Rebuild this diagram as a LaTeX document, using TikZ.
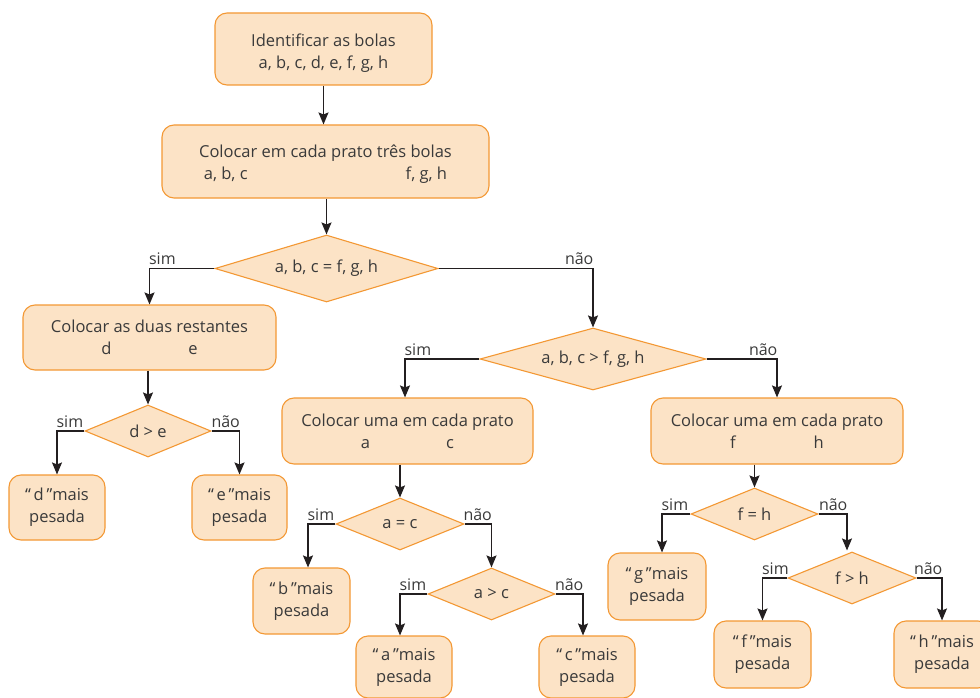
\documentclass[tikz,border=0pt]{standalone}
\usepackage{fontspec}
\setmainfont{Open Sans}
\usetikzlibrary{arrows.meta,shapes.geometric}
\definecolor{pessego}{RGB}{252,227,198}
\definecolor{laranja}{RGB}{243,152,52}
\definecolor{texto}{RGB}{58,58,58}
\definecolor{traco}{RGB}{35,31,32}
\tikzset{
  caixa/.style={draw=laranja, fill=pessego, line width=1.1pt, rounded corners=12pt,
    align=center, text=texto, inner sep=0pt, font=\fontsize{16.5}{22}\selectfont},
  losango/.style={diamond, aspect=2.4, draw=laranja, fill=pessego, line width=1.1pt, inner sep=0pt,
    text=texto, font=\fontsize{16.5}{22}\selectfont},
  seta/.style={draw=traco, line width=1.2pt, -{Stealth[length=12pt,width=10pt,inset=2pt]}},
  sim/.style={anchor=south west, inner sep=0pt, yshift=3pt, xshift=-1pt, text=texto,
    font=\fontsize{16}{21}\selectfont},
  nao/.style={anchor=south east, inner sep=0pt, yshift=3pt, xshift=1pt, text=texto,
    font=\fontsize{16}{21}\selectfont}
}
\begin{document}
\begin{tikzpicture}[x=1pt, y=-1pt]
		%%%%% START %%%%%
		\useasboundingbox (0, 0) rectangle (980, 698);
		\clip (0, 0) rectangle (980, 698);
		
		\node[caixa, minimum width=217, minimum height=72] (ident) at (323.5, 49) {\rule{0pt}{20.5pt}Identificar as bolas\\a, b, c, d, e, f, g, h};
		\node[caixa, minimum width=327, minimum height=73] (tres) at (325.5, 161.5) {\rule{0pt}{18.5pt}Colocar em cada prato três bolas\\a, b, c\hspace{158pt}f, g, h};
		\node[losango, aspect=3.4, minimum width=223, minimum height=67] (igual1) at (326.5, 268.5) {a, b, c = f, g, h};
		
		% ramo sim: d e e
		\node[caixa, minimum width=253, minimum height=65] (duas) at (149.5, 337.5) {Colocar as duas restantes\\d\hspace{77pt}e};
		\node[losango, minimum width=126, minimum height=52] (dmaior) at (148, 431) {d > e};
		\node[caixa, minimum width=96, minimum height=65] (pesd) at (57, 507.5) {“\,d\,”mais\\pesada};
		\node[caixa, minimum width=95, minimum height=65] (pese) at (239.5, 507.5) {“\,e\,”mais\\pesada};
		
		% ramo nao
		\node[losango, aspect=3.6, minimum width=226, minimum height=62] (maior1) at (593, 359) {a, b, c > f, g, h};
		\node[caixa, minimum width=251, minimum height=66] (umaac) at (407.5, 431) {Colocar uma em cada prato\\a\hspace{76pt}c};
		\node[caixa, minimum width=252, minimum height=66] (umafh) at (777, 431) {Colocar uma em cada prato\\f\hspace{78pt}h};
		
		\node[losango, minimum width=128, minimum height=52] (aigualc) at (400, 524) {a = c};
		\node[caixa, minimum width=97, minimum height=66] (pesb) at (301.5, 601) {“\,b\,”mais\\pesada};
		\node[losango, minimum width=127, minimum height=52] (amaiorc) at (491.5, 594) {a > c};
		\node[caixa, minimum width=96, minimum height=62] (pesa) at (404, 667) {“\,a\,”mais\\pesada};
		\node[caixa, minimum width=96, minimum height=62] (pesc) at (587, 667) {“\,c\,”mais\\pesada};
		
		\node[losango, minimum width=127, minimum height=52] (figualh) at (754.5, 514) {f = h};
		\node[caixa, minimum width=98, minimum height=67] (pesg) at (657, 586.5) {“\,g\,”mais\\pesada};
		\node[losango, minimum width=128, minimum height=52] (fmaiorh) at (852, 578) {f > h};
		\node[caixa, minimum width=97, minimum height=67] (pesf) at (762.5, 654.5) {“\,f\,”mais\\pesada};
		\node[caixa, minimum width=96, minimum height=67] (pesh) at (942, 654.5) {“\,h\,”mais\\pesada};
		
		% setas
		\draw[seta] (ident.south) -- (tres.north -| ident.south);
		\draw[seta] (tres.south -| igual1.north) -- (igual1.north);
		\draw[seta] (igual1.west) -| node[sim] {sim} (duas.north);
		\draw[seta] (igual1.east) -| node[nao] {não} (maior1.north);
		
		\draw[seta] (duas.south -| dmaior.north) -- (dmaior.north);
		\draw[seta] (dmaior.west) -| node[sim] {sim} (pesd.north);
		\draw[seta] (dmaior.east) -| node[nao] {não} (pese.north);
		
		\draw[seta] (maior1.west) -| node[sim] {sim} ([xshift=-2.5pt]umaac.north);
		\draw[seta] (maior1.east) -| node[nao] {não} (umafh.north);
		
		\draw[seta] (umaac.south -| aigualc.north) -- (aigualc.north);
		\draw[seta] (aigualc.west) -| node[sim] {sim} ([xshift=6.5pt]pesb.north);
		\draw[seta] (aigualc.east) -| node[nao] {não} (amaiorc.north);
		\draw[seta] (amaiorc.west) -| node[sim] {sim} ([xshift=-4pt]pesa.north);
		\draw[seta] (amaiorc.east) -| node[nao] {não} ([xshift=-4pt]pesc.north);
		
		\draw[seta] (umafh.south -| figualh.north) -- (figualh.north);
		\draw[seta] (figualh.west) -| node[sim] {sim} ([xshift=5pt]pesg.north);
		\draw[seta] (figualh.east) -| node[nao] {não} ([xshift=-5pt,yshift=1pt]fmaiorh.north);
		\draw[seta] (fmaiorh.west) -| node[sim] {sim} (pesf.north);
		\draw[seta] (fmaiorh.east) -| node[nao] {não} (pesh.north);
		
		%%%%% END %%%%%
	\end{tikzpicture}
\end{document}
